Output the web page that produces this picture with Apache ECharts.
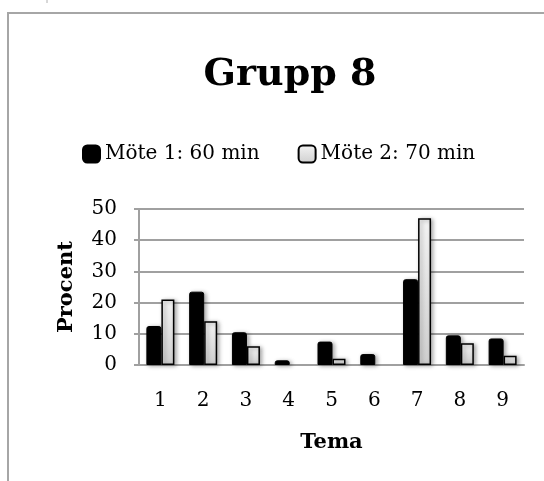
<!DOCTYPE html>
<html>
<head>
<meta charset="utf-8">
<script src="https://cdn.jsdelivr.net/npm/echarts@6/dist/echarts.min.js"></script>
<style>
  html, body { margin: 0; padding: 0; background: #fff; }
  #chart { width: 544px; height: 481px; }
</style>
</head>
<body>
<div id="chart"></div>
<script>
// Share of time per theme (percent), group 8
const categories = ['1', '2', '3', '4', '5', '6', '7', '8', '9'];
const meeting1 = [12.5, 23.5, 10.5, 1.5, 7.5, 3.5, 27.5, 9.5, 8.5];
const meeting2 = [21, 14, 6, 0, 2, 0, 47, 7, 3];
const seriesNames = ['Möte 1: 60 min', 'Möte 2: 70 min'];
const yTicks = [0, 10, 20, 30, 40, 50];

const serif = '"DejaVu Serif", serif';
const gridGray = '#a0a0a0';

const chart = echarts.init(document.getElementById('chart'), null, { renderer: 'canvas' });

const barShadow = {
  shadowBlur: 4,
  shadowOffsetX: 2,
  shadowOffsetY: 1,
  shadowColor: 'rgba(0,0,0,0.35)'
};

// zero values get no outline or shadow, so nothing shows on the baseline
function barData(values) {
  return values.map(v => v === 0
    ? { value: v, itemStyle: { borderWidth: 0, shadowBlur: 0, shadowOffsetX: 0, shadowOffsetY: 0, opacity: 0 } }
    : v);
}

chart.setOption({
  animation: false,
  backgroundColor: '#fff',
  graphic: [
    {
      // outer chart frame, running off the right and bottom edges
      type: 'rect',
      shape: { x: 8, y: 13, width: 700, height: 700 },
      style: { fill: 'none', stroke: '#a6a6a6', lineWidth: 2 },
      z: -1
    },
    {
      type: 'line',
      shape: { x1: 47, y1: 0, x2: 47, y2: 3 },
      style: { stroke: '#b0b0b0', lineWidth: 1 },
      z: -1
    }
  ],
  title: {
    text: 'Grupp 8',
    left: 285,
    textAlign: 'center',
    top: 51,
    textStyle: { fontFamily: serif, fontWeight: 'bold', fontSize: 38, color: '#000' }
  },
  legend: {
    data: seriesNames,
    left: 77,
    top: 139,
    itemWidth: 17,
    itemHeight: 17,
    itemGap: 38,
    icon: 'roundRect',
    textStyle: { fontFamily: serif, fontSize: 20, color: '#000' }
  },
  grid: { left: 139, right: 20, top: 209, bottom: 116, containLabel: false },
  xAxis: {
    type: 'category',
    data: categories,
    name: 'Tema',
    nameLocation: 'middle',
    nameGap: 67,
    nameTextStyle: { fontFamily: serif, fontWeight: 'bold', fontSize: 21, color: '#000' },
    axisLine: { lineStyle: { color: gridGray, width: 2 } },
    axisTick: { show: false },
    axisLabel: { fontFamily: serif, fontSize: 20, color: '#000', margin: 26 }
  },
  yAxis: {
    type: 'value',
    min: yTicks[0],
    max: yTicks[yTicks.length - 1],
    interval: 10,
    name: 'Procent',
    nameLocation: 'middle',
    nameGap: 62,
    nameTextStyle: { fontFamily: serif, fontWeight: 'bold', fontSize: 21, color: '#000' },
    axisLine: { show: true, lineStyle: { color: gridGray, width: 2 } },
    axisTick: { show: true, length: 5, lineStyle: { color: gridGray, width: 2 } },
    axisLabel: { fontFamily: serif, fontSize: 20, color: '#000', margin: 22 },
    splitLine: { lineStyle: { color: gridGray, width: 2 } }
  },
  series: [
    {
      name: seriesNames[0],
      type: 'bar',
      data: barData(meeting1),
      barWidth: 15,
      barGap: '0%',
      itemStyle: Object.assign({
        color: '#000',
        borderColor: '#000',
        borderWidth: 1,
        borderRadius: [2, 2, 0, 0]
      }, barShadow)
    },
    {
      name: seriesNames[1],
      type: 'bar',
      data: barData(meeting2),
      barWidth: 13,
      itemStyle: Object.assign({
        color: new echarts.graphic.LinearGradient(0, 0, 0, 1, [
          { offset: 0, color: '#f4f4f4' },
          { offset: 1, color: '#cfcfcf' }
        ]),
        borderColor: '#000',
        borderWidth: 1.5
      }, barShadow)
    }
  ]
});
</script>
</body>
</html>
